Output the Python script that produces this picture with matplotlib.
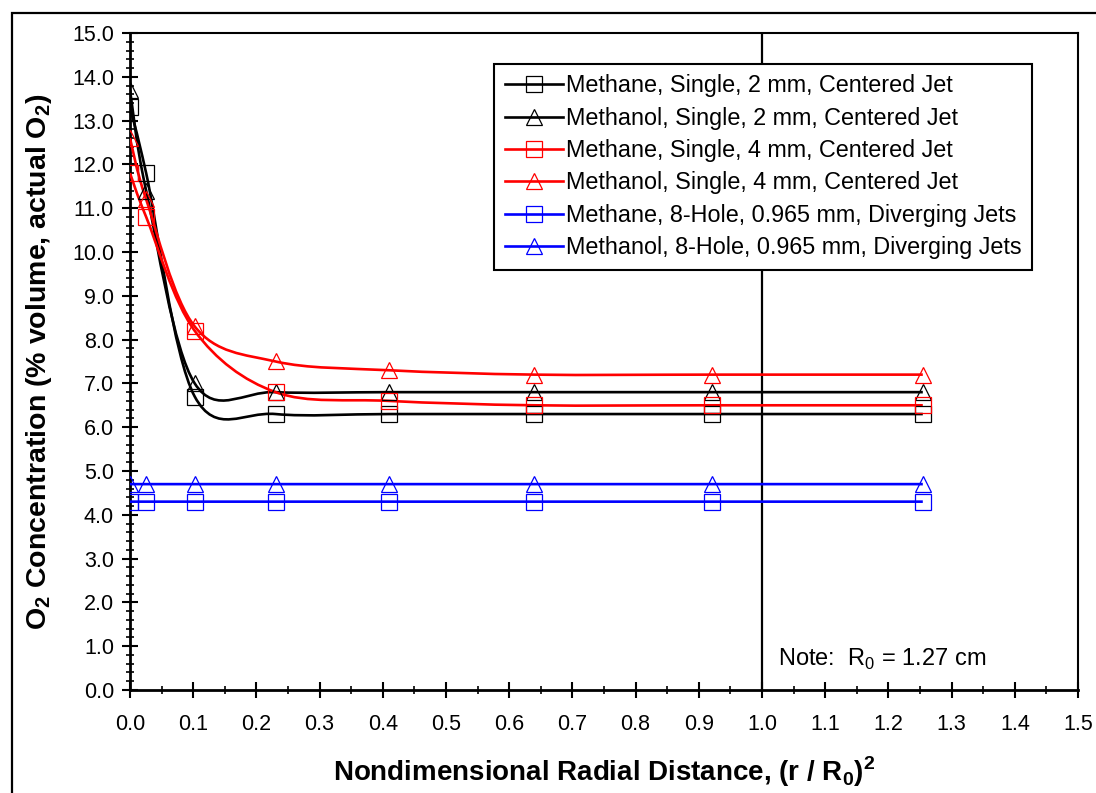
import numpy as np
import matplotlib
matplotlib.use("Agg")
import matplotlib.pyplot as plt
from matplotlib.path import Path
from matplotlib.patches import PathPatch, Rectangle
from matplotlib.ticker import MultipleLocator, FormatStrFormatter

plt.rcParams['font.family'] = ['Liberation Sans', 'DejaVu Sans']
plt.rcParams['mathtext.fontset'] = 'custom'
plt.rcParams['mathtext.rm'] = 'Liberation Sans'
plt.rcParams['mathtext.bf'] = 'Liberation Sans:bold'

# -----------------------------
# Data: (r / R0)^2 and O2 readings
# -----------------------------
r_sq = [0.0, 0.0256, 0.1024, 0.2304, 0.4096, 0.64, 0.9216, 1.2544]

methane_2mm = [13.3, 11.8, 6.7, 6.3, 6.3, 6.3, 6.3, 6.3]
methanol_2mm = [13.7, 11.4, 7.0, 6.8, 6.8, 6.8, 6.8, 6.8]
methane_4mm = [11.8, 10.8, 8.2, 6.8, 6.6, 6.5, 6.5, 6.5]
methanol_4mm = [12.6, 11.2, 8.3, 7.5, 7.3, 7.2, 7.2, 7.2]
methane_8hole = [4.3, 4.3, 4.3, 4.3, 4.3, 4.3, 4.3, 4.3]
methanol_8hole = [4.7, 4.7, 4.7, 4.7, 4.7, 4.7, 4.7, 4.7]

series = [
    ("Methane, Single, 2 mm, Centered Jet", methane_2mm, "black", "s"),
    ("Methanol, Single, 2 mm, Centered Jet", methanol_2mm, "black", "^"),
    ("Methane, Single, 4 mm, Centered Jet", methane_4mm, "red", "s"),
    ("Methanol, Single, 4 mm, Centered Jet", methanol_4mm, "red", "^"),
    ("Methane, 8-Hole, 0.965 mm, Diverging Jets", methane_8hole, "blue", "s"),
    ("Methanol, 8-Hole, 0.965 mm, Diverging Jets", methanol_8hole, "blue", "^"),
]


def smooth_path(x, y):
    # spreadsheet-style smoothed line: cubic Bezier through every point
    pts = np.column_stack([x, y]).astype(float)
    n = len(pts)
    verts = [pts[0]]
    codes = [Path.MOVETO]
    for i in range(n - 1):
        p0 = pts[i - 1] if i > 0 else pts[i]
        p1 = pts[i]
        p2 = pts[i + 1]
        p3 = pts[i + 2] if i + 2 < n else pts[i + 1]
        verts += [p1 + (p2 - p0) / 6, p2 - (p3 - p1) / 6, p2]
        codes += [Path.CURVE4] * 3
    return Path(verts, codes)


fig = plt.figure(figsize=(10.96, 7.93), dpi=100)
ax = fig.add_axes([0.1186, 0.1299, 0.8650, 0.8285])

for label, vals, color, mk in series:
    ax.add_patch(PathPatch(smooth_path(r_sq, vals), facecolor="none",
                           edgecolor=color, lw=1.9, zorder=3))
    ax.plot(r_sq, vals, linestyle="none", marker=mk, markersize=12,
            markerfacecolor="none", markeredgecolor=color,
            markeredgewidth=0.9, zorder=4)
    # legend proxy
    ax.plot([], [], color=color, lw=1.9, marker=mk, markersize=12,
            markerfacecolor="none", markeredgecolor=color,
            markeredgewidth=0.9, label=label)

ax.axvline(1.0, color="black", lw=1.6, zorder=2)

ax.set_xlim(0, 1.5)
ax.set_ylim(0, 15)
ax.xaxis.set_major_locator(MultipleLocator(0.1))
ax.xaxis.set_minor_locator(MultipleLocator(0.05))
ax.yaxis.set_major_locator(MultipleLocator(1.0))
ax.yaxis.set_minor_locator(MultipleLocator(0.2))
ax.xaxis.set_major_formatter(FormatStrFormatter("%.1f"))
ax.yaxis.set_major_formatter(FormatStrFormatter("%.1f"))
ax.tick_params(which="major", direction="inout", length=11, width=1.5,
               labelsize=15.5)
ax.tick_params(which="minor", direction="inout", length=6, width=1.2)
ax.tick_params(axis="x", which="major", pad=12)
ax.tick_params(axis="y", which="major", pad=6)

for side in ["left", "bottom"]:
    ax.spines[side].set_linewidth(2.0)
for side in ["top", "right"]:
    ax.spines[side].set_linewidth(1.5)

ax.set_xlabel(r"Nondimensional Radial Distance, (r / R$_\mathbf{0}$)$^\mathbf{2}$",
              fontsize=20, fontweight="bold", labelpad=14)
ax.set_ylabel(r"O$_\mathbf{2}$ Concentration (% volume, actual O$_\mathbf{2}$)",
              fontsize=20.5, fontweight="bold", labelpad=13)

ax.text(1.026, 0.55, r"Note:  R$_\mathregular{0}$ = 1.27 cm", fontsize=17,
        ha="left", va="baseline")

leg = ax.legend(loc="upper left", bbox_to_anchor=(0.3842, 0.9528),
                fontsize=16.8, frameon=True, fancybox=False, framealpha=1,
                borderpad=0.45, handlelength=2.5, handletextpad=0.12,
                labelspacing=0.4, borderaxespad=0)
leg.get_frame().set_edgecolor("black")
leg.get_frame().set_linewidth(1.5)
leg.set_zorder(5)

# outer chart border
fig.patches.append(Rectangle((0.011, -0.2), 1.2, 0.9836 + 0.2,
                             transform=fig.transFigure, fill=False,
                             edgecolor="black", lw=1.6))

fig.savefig("out.png", dpi=100)
